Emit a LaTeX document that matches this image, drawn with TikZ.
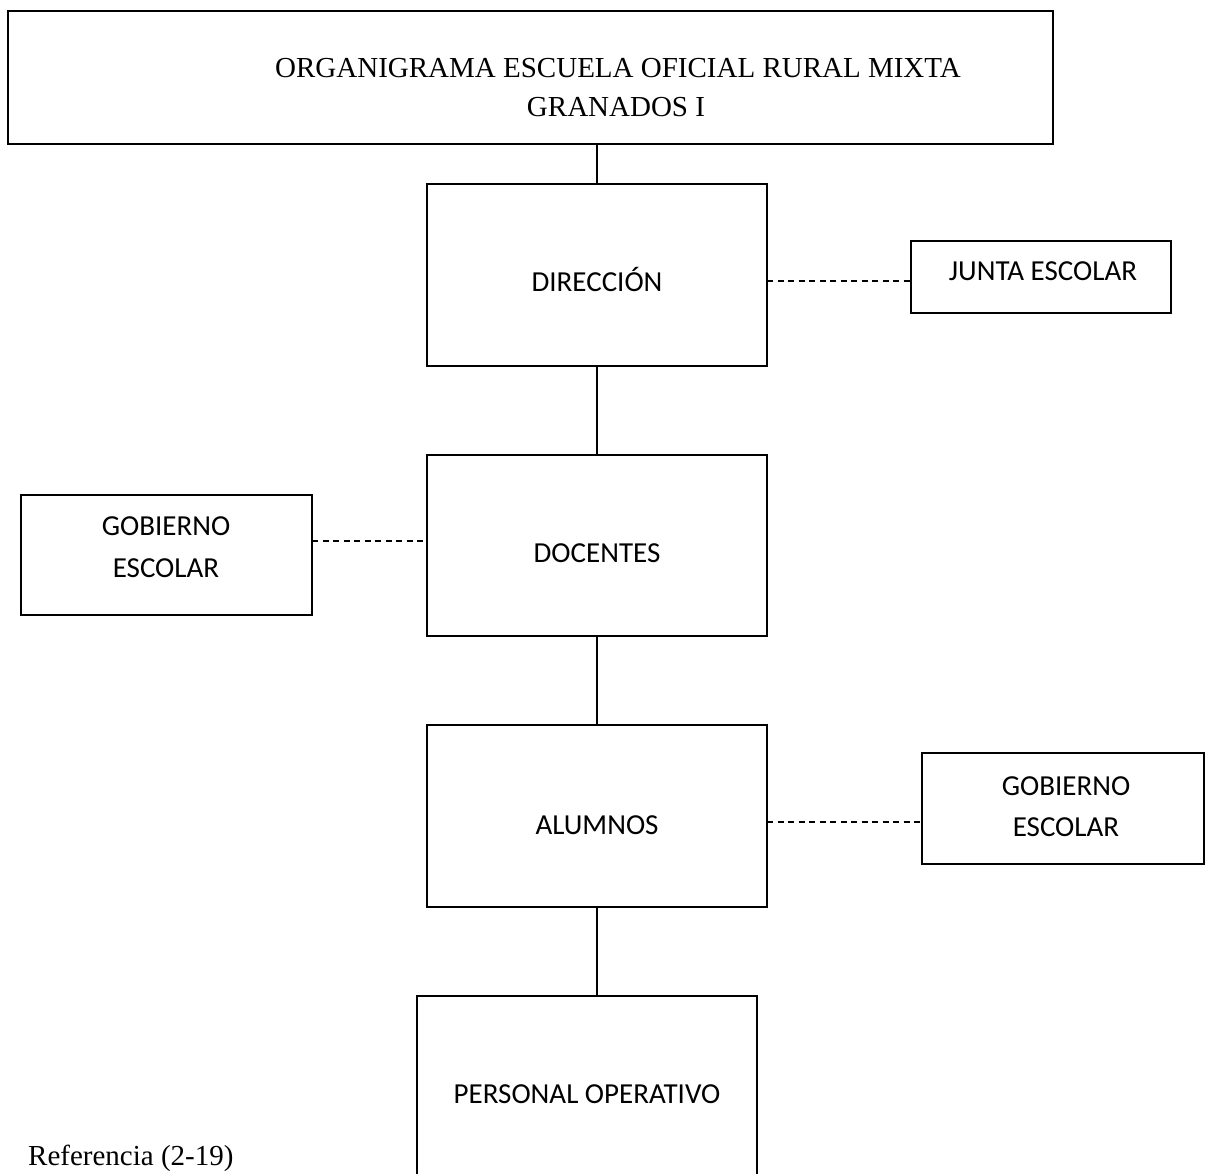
\documentclass[tikz,border=0pt]{standalone}
\usepackage{fontspec}
\setmainfont{Liberation Serif}
\newfontfamily\calfont{Carlito}
\begin{document}
\begin{tikzpicture}[x=1pt,y=-1pt,
  box/.style={draw=black,line width=1.5pt,inner sep=0pt,outer sep=0pt},
  conn/.style={draw=black,line width=1.3pt},
  dconn/.style={draw=black,line width=1.3pt,dash pattern=on 6pt off 4.5pt},
  lbl/.style={font=\calfont\fontsize{29}{35}\selectfont,anchor=base,inner sep=0pt},
  tlbl/.style={font=\fontsize{29}{35}\selectfont,anchor=base,inner sep=0pt}]
\useasboundingbox (0,0) rectangle (1205,1173);
\clip (0,0) rectangle (1205,1173);
% boxes
\node[box,line width=2.2pt,minimum width=1045pt,minimum height=133pt] (title) at (530.5,77.5) {};
\node[box,minimum width=340pt,minimum height=182pt] (dir) at (597,275) {};
\node[box,minimum width=260pt,minimum height=72pt] (junta) at (1041,277) {};
\node[box,minimum width=340pt,minimum height=181pt] (doc) at (597,545.5) {};
\node[box,minimum width=291pt,minimum height=120pt] (gobL) at (166.5,555) {};
\node[box,minimum width=340pt,minimum height=182pt] (alu) at (597,816) {};
\node[box,minimum width=282pt,minimum height=111pt] (gobR) at (1063,808.5) {};
\node[box,minimum width=340pt,minimum height=200pt] (pers) at (587,1096) {};
% texts
\node[tlbl] (t1) at (618,77) {ORGANIGRAMA ESCUELA OFICIAL RURAL MIXTA};
\node[tlbl] (t2) at (616,116) {GRANADOS I};
\node[lbl] (tdir) at (597,291) {DIRECCIÓN};
\node[lbl] (tjun) at (1043,280) {JUNTA ESCOLAR};
\node[lbl] (tdoc) at (597,562) {DOCENTES};
\node[lbl] (tgl1) at (166,535) {GOBIERNO};
\node[lbl] (tgl2) at (166,577) {ESCOLAR};
\node[lbl] (talu) at (597,834) {ALUMNOS};
\node[lbl] (tgr1) at (1066,795) {GOBIERNO};
\node[lbl] (tgr2) at (1066,836) {ESCOLAR};
\node[lbl] (tper) at (587,1103) {PERSONAL OPERATIVO};
\node[tlbl,anchor=base west] (ref) at (28,1165) {Referencia (2-19)};
% connectors
\draw[conn] (title.south -| dir.north) -- (dir.north);
\draw[conn] (dir.south) -- (doc.north);
\draw[conn] (doc.south) -- (alu.north);
\draw[conn] (alu.south) -- (alu.south |- pers.north);
\draw[dconn] (dir.east |- junta.west) ++(0,4) -- (junta.west |- 0,281);
\draw[dconn] (gobL.east |- 0,541) -- (doc.west |- 0,541);
\draw[dconn] (alu.east |- 0,822) -- (gobR.west |- 0,822);
\end{tikzpicture}
\end{document}
